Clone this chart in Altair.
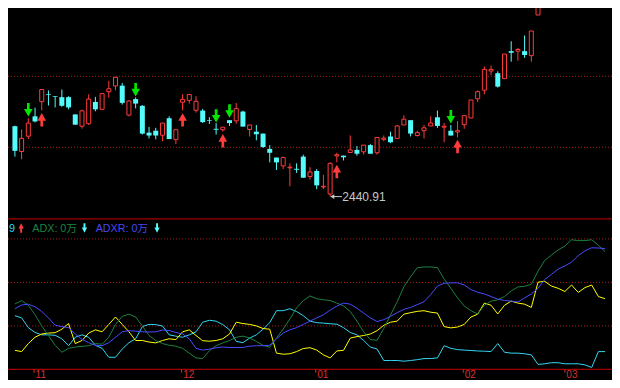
import altair as alt
import pandas as pd

# ---------------- data ----------------
opens = [2587.7, 2534.9, 2566.9, 2608.3, 2638.9, 2654.3, 2650.3, 2648.3, 2648.3, 2612.3,
         2587.7, 2592.9, 2638.3, 2622.9, 2659.7, 2671.7, 2672.3, 2610.9, 2644.3, 2630.3,
         2574.3, 2578.3, 2568.9, 2604.3, 2559.7, 2637.7, 2641.7, 2620.9, 2620.3, 2600.3,
         2582.3, 2580.3, 2600.3, 2598.9, 2618.3, 2580.9, 2576.3, 2572.3, 2540.3, 2522.3,
         2504.9, 2500.9, 2498.9, 2524.3, 2482.9, 2494.3, 2460.9, 2446.3, 2525.7, 2526.3,
         2532.9, 2538.3, 2534.3, 2548.3, 2532.3, 2560.3, 2566.3, 2562.3, 2590.3, 2600.3,
         2568.3, 2578.3, 2588.3, 2606.3, 2585.7, 2578.3, 2575.7, 2590.9, 2604.9, 2644.9,
         2662.9, 2702.9, 2698.3, 2686.9, 2744.3, 2744.3, 2744.3, 2734.9, 2819.7]
highs = [2588.9, 2580.9, 2604.3, 2626.3, 2664.3, 2662.3, 2650.3, 2664.3, 2650.3, 2612.3,
         2622.3, 2654.3, 2648.9, 2655.7, 2682.3, 2689.7, 2677.7, 2642.3, 2647.7, 2631.7,
         2586.3, 2584.3, 2594.3, 2608.3, 2580.3, 2654.3, 2653.7, 2650.3, 2623.7, 2606.3,
         2594.3, 2585.7, 2600.3, 2636.3, 2620.3, 2590.3, 2590.3, 2572.3, 2548.3, 2522.3,
         2524.3, 2510.3, 2510.3, 2528.3, 2502.3, 2498.3, 2486.3, 2512.3, 2532.3, 2526.3,
         2568.3, 2546.3, 2548.3, 2550.3, 2564.3, 2568.3, 2576.3, 2590.3, 2610.3, 2600.3,
         2578.3, 2590.3, 2608.3, 2620.3, 2594.3, 2590.3, 2598.3, 2609.7, 2642.3, 2662.3,
         2712.3, 2714.3, 2702.3, 2738.3, 2764.9, 2750.9, 2776.9, 2786.3, 2854.3]
lows = [2524.3, 2518.9, 2560.9, 2595.7, 2620.9, 2630.9, 2626.9, 2628.3, 2622.9, 2590.9,
        2582.9, 2590.3, 2618.9, 2622.9, 2646.9, 2662.9, 2632.9, 2608.3, 2624.9, 2570.3,
        2562.3, 2560.3, 2556.3, 2560.9, 2550.3, 2620.9, 2634.9, 2616.3, 2594.3, 2592.3,
        2570.3, 2576.3, 2588.3, 2592.9, 2586.9, 2566.3, 2558.3, 2542.3, 2512.3, 2496.3,
        2498.3, 2462.3, 2490.3, 2480.3, 2476.3, 2456.3, 2456.3, 2440.91, 2512.3, 2516.3,
        2532.9, 2526.3, 2528.3, 2530.3, 2528.3, 2556.3, 2552.3, 2562.3, 2590.3, 2566.3,
        2566.3, 2562.3, 2588.3, 2584.3, 2554.3, 2568.3, 2564.3, 2582.3, 2604.9, 2638.3,
        2654.3, 2694.3, 2668.3, 2686.9, 2722.3, 2724.3, 2730.3, 2722.3, 2819.7]
closes = [2536.3, 2562.3, 2594.3, 2597.7, 2664.3, 2652.9, 2648.9, 2630.3, 2626.9, 2590.9,
          2619.7, 2644.3, 2622.9, 2655.7, 2665.7, 2689.7, 2636.3, 2640.3, 2634.9, 2572.3,
          2568.3, 2568.3, 2594.3, 2560.9, 2580.3, 2643.7, 2653.7, 2639.7, 2596.3, 2598.9,
          2580.3, 2585.7, 2594.3, 2624.3, 2586.9, 2590.3, 2570.9, 2544.3, 2532.3, 2512.3,
          2522.3, 2502.3, 2496.9, 2480.3, 2492.3, 2464.3, 2462.3, 2510.3, 2528.3, 2522.9,
          2538.3, 2530.3, 2548.3, 2530.3, 2564.3, 2562.9, 2554.3, 2588.3, 2602.3, 2572.3,
          2574.3, 2584.3, 2594.3, 2588.3, 2587.7, 2568.3, 2578.3, 2609.7, 2642.3, 2659.7,
          2706.3, 2706.3, 2670.3, 2738.3, 2740.9, 2747.7, 2736.3, 2786.3, 2854.3]

pdi = [24.7, 23.7, 19.2, 17.0, 15.9, 15.9, 15.7, 14.1, 10.9, 14.8,
       15.9, 14.8, 11.1, 9.7, 5.6, 5.6, 9.4, 12.3, 14.1, 19.7,
       20.7, 20.6, 20.0, 15.9, 15.3, 14.8, 15.9, 17.3, 21.7, 22.6,
       22.2, 20.6, 18.2, 12.9, 12.3, 14.4, 15.9, 18.5, 21.5, 27.0,
       27.0, 27.9, 26.6, 24.7, 22.2, 21.5, 21.3, 21.0, 20.8, 19.2,
       17.0, 15.9, 13.3, 10.3, 9.4, 4.1, 4.1, 4.1, 3.8, 4.1,
       4.5, 5.0, 5.0, 5.3, 10.9, 9.7, 9.1, 8.9, 8.7, 8.5,
       8.4, 8.2, 11.9, 7.9, 7.5, 7.5, 7.2, 6.7, 2.3, 2.6,
       3.1, 3.1, 2.6, 2.6, 2.6, 2.1, 0.9, 8.2, 8.2]
mdi = [8.8, 8.2, 11.9, 14.8, 16.3, 16.7, 16.9, 18.5, 21.1, 11.9,
       13.3, 16.7, 18.2, 17.3, 20.7, 24.1, 20.7, 17.3, 13.3, 13.3,
       12.6, 12.2, 13.3, 14.1, 13.7, 17.3, 18.2, 15.6, 13.2, 13.0,
       13.3, 14.1, 16.3, 21.7, 21.1, 20.7, 20.0, 18.8, 18.5, 7.5,
       7.0, 7.2, 8.2, 9.6, 10.0, 8.9, 6.7, 5.3, 8.5, 8.8,
       14.4, 15.1, 15.6, 16.3, 17.8, 20.3, 21.7, 22.2, 25.4, 26.1,
       26.7, 27.0, 26.3, 25.9, 19.7, 19.1, 19.5, 20.7, 24.1, 25.4,
       30.5, 29.5, 25.5, 29.5, 31.4, 30.5, 30.0, 28.5, 40.1, 40.5,
       38.3, 37.3, 35.8, 38.8, 35.4, 37.6, 38.8, 33.5, 32.5]
adx = [30.1, 31.6, 29.5, 25.1, 20.0, 15.6, 11.1, 7.9, 9.7, 10.3,
       10.6, 10.9, 11.9, 11.6, 14.8, 20.7, 24.4, 25.4, 24.1, 20.0,
       15.6, 13.3, 11.9, 11.1, 10.7, 9.7, 7.5, 5.3, 5.0, 8.6,
       10.9, 12.2, 13.3, 14.8, 15.3, 14.5, 12.9, 11.1, 10.2, 14.4,
       18.6, 23.2, 28.3, 31.6, 33.8, 32.5, 32.0, 31.7, 30.5, 29.2,
       26.6, 22.2, 17.3, 13.7, 13.4, 18.8, 25.0, 31.1, 38.0, 42.6,
       46.7, 47.1, 47.1, 46.8, 41.5, 37.3, 32.9, 29.1, 27.0, 25.5,
       29.5, 31.4, 32.0, 33.5, 36.1, 37.9, 38.2, 39.1, 45.2, 50.1,
       52.6, 54.9, 56.7, 59.6, 59.2, 59.2, 59.6, 57.1, 54.1]
adxr = [27.9, 29.6, 30.0, 28.8, 26.6, 23.7, 20.3, 19.7, 19.2, 16.3,
        13.8, 12.3, 11.1, 10.9, 12.3, 14.8, 17.3, 17.8, 17.6, 17.3,
        17.2, 17.3, 18.1, 17.9, 17.0, 16.3, 14.1, 9.7, 8.9, 9.3,
        10.0, 10.3, 10.1, 10.1, 10.1, 10.7, 10.9, 10.9, 11.1, 14.1,
        16.7, 18.2, 19.2, 20.7, 22.2, 23.7, 25.1, 27.3, 29.1, 30.5,
        30.0, 28.1, 25.9, 23.7, 22.0, 22.9, 24.4, 26.1, 27.6, 28.5,
        29.8, 31.1, 34.4, 38.3, 39.6, 39.8, 39.8, 38.8, 36.7, 35.5,
        34.7, 33.5, 32.3, 31.7, 31.4, 31.0, 32.9, 34.7, 37.3, 41.3,
        43.7, 46.1, 47.6, 49.3, 52.3, 54.5, 55.9, 55.8, 55.5]

sell_idx = [2, 18, 30, 32, 65]
sell_price = [2621.9, 2663.7, 2609.3, 2619.3, 2607.3]
buy_idx = [4, 25, 31, 48, 66]
buy_price = [2601.3, 2600.9, 2557.3, 2493.3, 2545.3]

month_ticks = [2.86, 24.86, 44.86, 66.86, 82.0]
month_labels = ["11", "12", "01", "02", "03"]

price_grid = [2691.7, 2543.7]
dmi_grid = [20, 40, 60]
dmi_frame = [0, 69.2]

low_idx = [47]
low_value = [2440.91]

# ---------------- styling ----------------
W, H = 604, 372
SX = W / 620.0
SY = H / 388.0
RED = "#ff3c3c"
CYAN = "#54fcfc"
GREEN_ARROW = "#00e600"
GRID = "#a81818"
BORDER = "#a00000"
AXIS_RED = "#d83030"
LOW_GRAY = "#c8c8c8"
FONT = "Liberation Sans, Noto Sans CJK SC"

n = len(opens)
candles = pd.DataFrame({"i": list(range(n)), "open": opens, "high": highs,
                        "low": lows, "close": closes})
m = len(pdi)
dmi = pd.DataFrame({
    "i": list(range(m)) * 4,
    "v": pdi + mdi + adx + adxr,
    "s": ["PDI"] * m + ["MDI"] * m + ["ADX"] * m + ["ADXR"] * m,
})
sells = pd.DataFrame({"i": sell_idx, "p": sell_price})
buys = pd.DataFrame({"i": buy_idx, "p": buy_price})
months = pd.DataFrame({"i": month_ticks, "lab": month_labels})
lowpt = pd.DataFrame({"i": low_idx, "p": low_value})

xs = alt.Scale(domain=[-2 / 7, 618 / 7], nice=False, zero=False)
ps = alt.Scale(domain=[2058.3, 2834.3], nice=False, zero=False)
ds = alt.Scale(domain=[-4.846, 166.08], nice=False, zero=False)

X = alt.X("i:Q", scale=xs, axis=None)

DOWN = "M-0.2,-1L0.2,-1L0.2,-0.14L0.64,-0.14L0,1L-0.64,-0.14L-0.2,-0.14Z"
UP = "M-0.2,1L0.2,1L0.2,0.14L0.64,0.14L0,-1L-0.64,0.14L-0.2,0.14Z"
HDOWN = "M-0.2,-1L0.2,-1L0.2,-0.1L0.55,-0.1L0,1L-0.55,-0.1L-0.2,-0.1Z"
HUP = "M-0.2,1L0.2,1L0.2,0.1L0.55,0.1L0,-1L-0.55,0.1L-0.2,0.1Z"
ASZ = (14 * SY) ** 2
HSZ = (10 * SY) ** 2

layers = []

# gridlines and frame
layers.append(alt.Chart(pd.DataFrame({"p": price_grid})).mark_rule(
    color=GRID, strokeDash=[1, 2], strokeWidth=1).encode(
    y=alt.Y("p:Q", scale=ps, axis=None)))
layers.append(alt.Chart(pd.DataFrame({"v": dmi_grid})).mark_rule(
    color=GRID, strokeDash=[1, 2], strokeWidth=1).encode(
    y=alt.Y("v:Q", scale=ds, axis=None)))
layers.append(alt.Chart(pd.DataFrame({"v": dmi_frame})).mark_rule(
    color=BORDER, strokeWidth=1.2).encode(
    y=alt.Y("v:Q", scale=ds, axis=None)))

# month ticks and labels
layers.append(alt.Chart(months).transform_calculate(ya="0", yb="-1.5").mark_rule(
    color=AXIS_RED, strokeWidth=1).encode(
    X, y=alt.Y("ya:Q", scale=ds, axis=None), y2="yb:Q"))
layers.append(alt.Chart(months).transform_calculate(ya="-4.0").mark_text(
    align="left", baseline="alphabetic", dx=1.5, fontSize=10, font=FONT,
    color=AXIS_RED).encode(X, y=alt.Y("ya:Q", scale=ds, axis=None), text="lab:N"))

# DMI lines
layers.append(alt.Chart(dmi).mark_line(strokeWidth=1, clip=True).encode(
    X, y=alt.Y("v:Q", scale=ds, axis=None),
    color=alt.Color("s:N", legend=None, scale=alt.Scale(
        domain=["PDI", "MDI", "ADX", "ADXR"],
        range=["#33d6f2", "#ffff00", "#1e8040", "#4a4aff"]))))

# candles
layers.append(alt.Chart(candles).mark_rule(strokeWidth=1, clip=True).encode(
    X, y=alt.Y("low:Q", scale=ps, axis=None), y2="high:Q",
    color=alt.condition("datum.close >= datum.open", alt.value(RED), alt.value(CYAN))))
layers.append(alt.Chart(candles).transform_filter("datum.close >= datum.open").mark_bar(
    size=4, fill="black", stroke=RED, strokeWidth=1, clip=True, orient="vertical").encode(
    X, y=alt.Y("open:Q", scale=ps, axis=None), y2="close:Q"))
layers.append(alt.Chart(candles).transform_filter("datum.close < datum.open").mark_bar(
    size=5, color=CYAN, clip=True, orient="vertical").encode(
    X, y=alt.Y("open:Q", scale=ps, axis=None), y2="close:Q"))

# signal arrows
layers.append(alt.Chart(sells).mark_point(
    shape=DOWN, size=ASZ, filled=True, color=GREEN_ARROW, opacity=1, strokeWidth=0).encode(
    X, y=alt.Y("p:Q", scale=ps, axis=None)))
layers.append(alt.Chart(buys).mark_point(
    shape=UP, size=ASZ, filled=True, color=RED, opacity=1, strokeWidth=0).encode(
    X, y=alt.Y("p:Q", scale=ps, axis=None)))

# lowest-price annotation
layers.append(alt.Chart(lowpt).transform_calculate(
    xa="datum.i + 0.5", xb="datum.i + 1.76").mark_rule(color=LOW_GRAY, strokeWidth=1).encode(
    x=alt.X("xa:Q", scale=xs, axis=None), x2="xb:Q", y=alt.Y("p:Q", scale=ps, axis=None)))
layers.append(alt.Chart(lowpt).transform_calculate(xa="datum.i + 0.32").mark_point(
    shape="triangle-left", size=22, filled=True, color=LOW_GRAY, opacity=1).encode(
    x=alt.X("xa:Q", scale=xs, axis=None), y=alt.Y("p:Q", scale=ps, axis=None)))
layers.append(alt.Chart(lowpt).transform_calculate(xa="datum.i + 1.82").mark_text(
    align="left", baseline="middle", fontSize=12.5 * SY, font=FONT, color=LOW_GRAY).encode(
    x=alt.X("xa:Q", scale=xs, axis=None), y=alt.Y("p:Q", scale=ps, axis=None),
    text=alt.Text("p:Q", format=".2f")))

# indicator header
one = pd.DataFrame({"a": [0]})
hy = 233.7 * SY
header_text = [
    ("9", 1, "#33d6f2"),
    ("ADX: 0万", 25, "#1e8040"),
    ("ADXR: 0万", 90, "#4848f0"),
]
for txt, hx, col in header_text:
    layers.append(alt.Chart(one).mark_text(
        align="left", baseline="alphabetic", fontSize=11.2 * SY, font=FONT,
        color=col).encode(x=alt.value(hx * SX), y=alt.value(hy), text=alt.value(txt)))
header_arrows = [
    (HUP, 13.5, RED),
    (HDOWN, 78.5, CYAN),
    (HDOWN, 153, CYAN),
]
for shp, hx, col in header_arrows:
    layers.append(alt.Chart(one).mark_point(
        shape=shp, size=HSZ, filled=True, color=col, opacity=1, strokeWidth=0).encode(
        x=alt.value(hx * SX), y=alt.value(229.5 * SY)))

chart = alt.layer(*layers).resolve_scale(y="independent").properties(
    width=W, height=H, padding=0,
    autosize=alt.AutoSizeParams(type="none"),
    background="black",
).configure_view(stroke=None)

chart.save("out.html", embed_options={"renderer": "svg", "actions": False})
